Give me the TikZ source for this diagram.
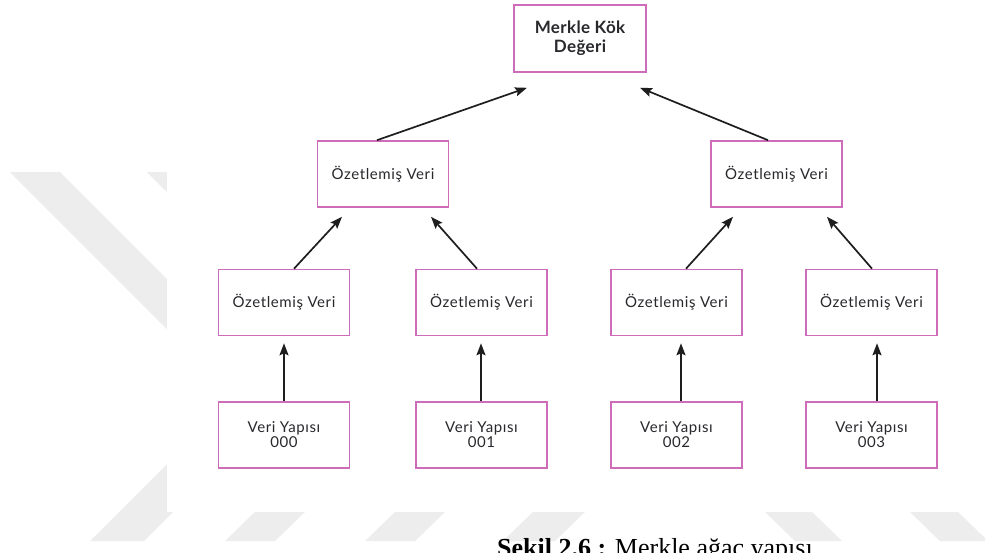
\documentclass[tikz,border=0pt]{standalone}
\usepackage{fontspec}
\setmainfont{Lato}
\newfontfamily\boxfont[LetterSpace=4]{Lato}
\newfontfamily\rootfont[LetterSpace=2]{Lato}
\newfontfamily\captionfont{Liberation Serif}
\usetikzlibrary{arrows.meta,calc}

\definecolor{boxpink}{RGB}{206,108,186}
\definecolor{inkgray}{RGB}{40,40,45}
\definecolor{arrowink}{RGB}{30,30,30}
\definecolor{markgray}{RGB}{237,237,237}

\begin{document}
\begin{tikzpicture}[x=1pt,y=-1pt,
  hashbox/.style={draw=boxpink,line width=1.6pt,minimum width=131pt,
    minimum height=66pt,inner sep=0pt,text=inkgray,align=center,
    font=\boxfont\fontsize{15}{15}\selectfont},
  rootbox/.style={hashbox,minimum width=132pt,minimum height=67pt,
    font=\rootfont\bfseries\fontsize{17}{19}\selectfont},
  uparrow/.style={draw=arrowink,line width=1.7pt,
    -{Stealth[length=12pt,width=9pt,inset=2pt]}},
  wmark/.style={fill=markgray}]

\useasboundingbox (0,0) rectangle (985,552);
\fill[white] (0,0) rectangle (985,552);

% faint watermark stripes
\fill[wmark] (10,172) -- (60,172) -- (167,279) -- (167,329) -- cycle;
\fill[wmark] (147,172) -- (200,172) -- (200,225) -- cycle;
\fill[wmark] (90,541) -- (144,541) -- (230,455) -- (176,455) -- cycle;
\fill[wmark] (225,541) -- (275,541) -- (305,512) -- (255,512) -- cycle;
\fill[wmark] (365,541) -- (415,541) -- (445,512) -- (395,512) -- cycle;
\fill[wmark] (503,541) -- (555,541) -- (585,512) -- (533,512) -- cycle;
\fill[wmark] (765,512) -- (812,512) -- (842,541) -- (795,541) -- cycle;
\fill[wmark] (910,512) -- (958,512) -- (988,541) -- (940,541) -- cycle;

% white sheet carrying the tree
\fill[white] (167,0) rectangle (985,512);

% root
\node[rootbox] (root) at (580,38.5) {Merkle Kök\\Değeri};

% intermediate hashes
\node[hashbox] (h0) at (383,174) {Özetlemiş Veri};
\node[hashbox] (h1) at (776.5,174) {Özetlemiş Veri};

% leaf hashes
\node[hashbox] (h00) at (284,302.5) {Özetlemiş Veri};
\node[hashbox] (h01) at (481.5,302.5) {Özetlemiş Veri};
\node[hashbox] (h10) at (676.5,302.5) {Özetlemiş Veri};
\node[hashbox] (h11) at (871.5,302.5) {Özetlemiş Veri};

% data blocks
\node[hashbox] (d0) at (284,435) {Veri Yapısı\\000};
\node[hashbox] (d1) at (481.5,435) {Veri Yapısı\\001};
\node[hashbox] (d2) at (676.5,435) {Veri Yapısı\\002};
\node[hashbox] (d3) at (871.5,435) {Veri Yapısı\\003};

% arrow tips stop short of the parent boxes
\coordinate (tr0) at ($(root.south)+(-53,15)$);
\coordinate (tr1) at ($(root.south)+(60,15)$);
\coordinate (t00) at ($(h0.south)+(-41,9)$);
\coordinate (t01) at ($(h0.south)+(48,9)$);
\coordinate (t10) at ($(h1.south)+(-43.5,9)$);
\coordinate (t11) at ($(h1.south)+(50.5,9)$);
\coordinate (u0) at ($(h00.south)+(0,7)$);
\coordinate (u1) at ($(h01.south)+(-0.5,7)$);
\coordinate (u2) at ($(h10.south)+(4.5,7)$);
\coordinate (u3) at ($(h11.south)+(5.5,7)$);

\draw[uparrow] ($(h0.north)+(-6,0)$) -- (tr0);
\draw[uparrow] ($(h1.north)+(-8.5,0)$) -- (tr1);

\draw[uparrow] ($(h00.north)+(10,0)$) -- (t00);
\draw[uparrow] ($(h01.north)+(-4.5,0)$) -- (t01);
\draw[uparrow] ($(h10.north)+(9.5,0)$) -- (t10);
\draw[uparrow] ($(h11.north)+(0.5,0)$) -- (t11);

\draw[uparrow] (d0.north) -- (u0);
\draw[uparrow] ($(d1.north)+(-0.5,0)$) -- (u1);
\draw[uparrow] ($(d2.north)+(4.5,0)$) -- (u2);
\draw[uparrow] ($(d3.north)+(5.5,0)$) -- (u3);

% caption
\node[anchor=base west,inner sep=0pt,
  font=\captionfont\fontsize{26}{30}\selectfont] (cap) at (497,556)
  {\textbf{Şekil 2.6 :} Merkle ağaç yapısı};
\end{tikzpicture}
\end{document}
